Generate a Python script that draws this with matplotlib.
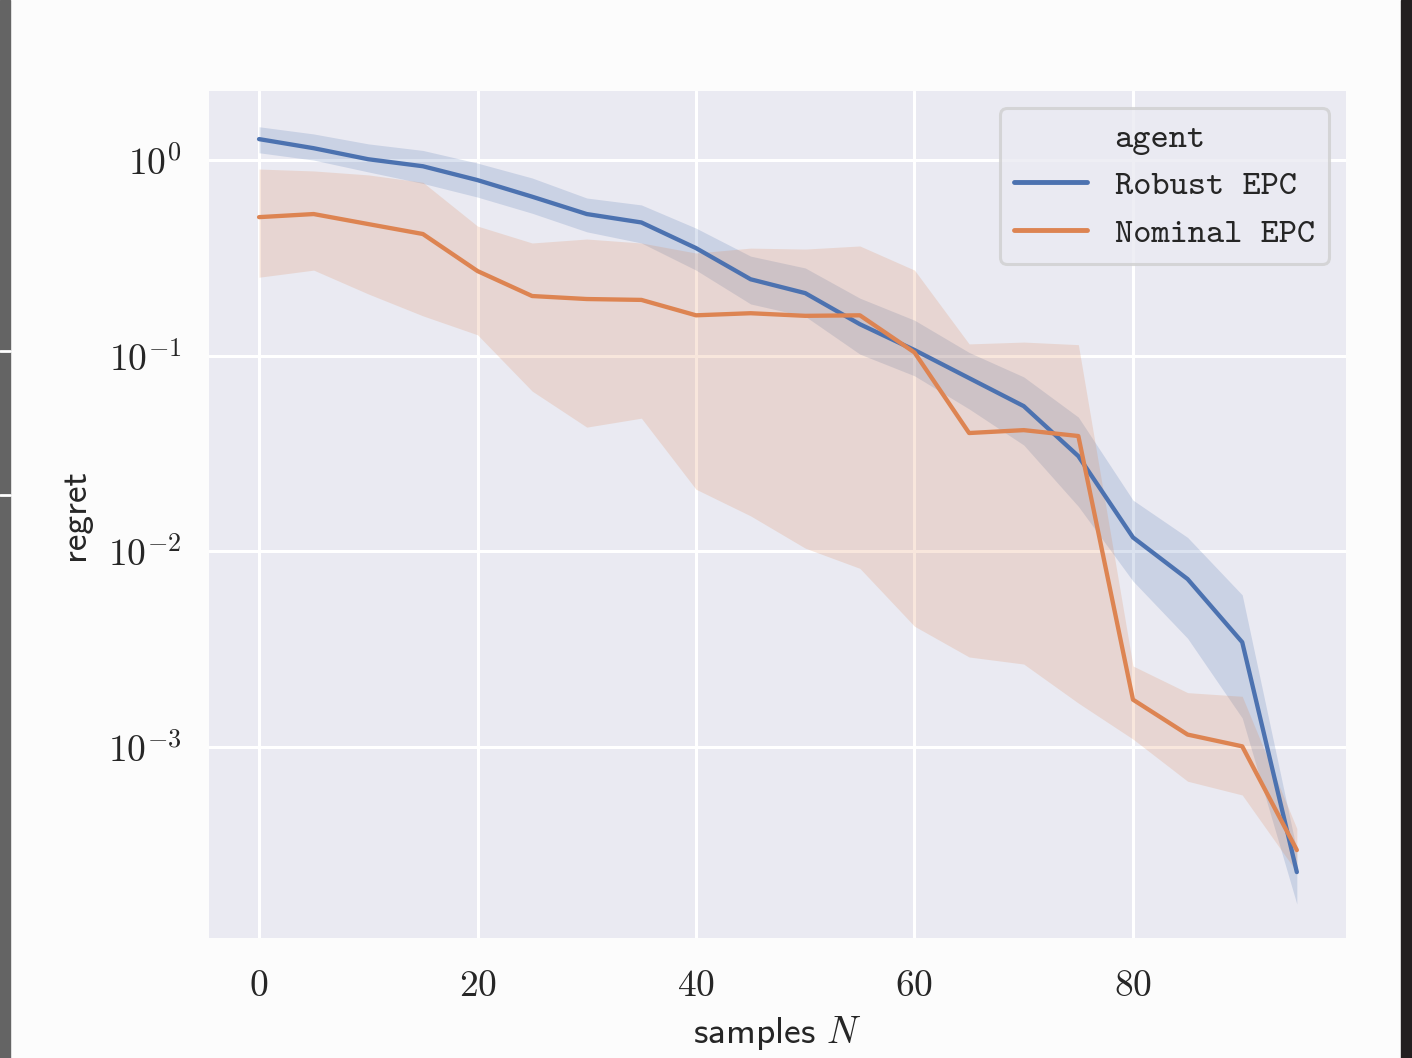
import numpy as np
import matplotlib
matplotlib.use('Agg')
import matplotlib.pyplot as plt
import seaborn as sns
from matplotlib.lines import Line2D
from matplotlib.patches import Rectangle

# samples N
samples = [0, 5, 10, 15, 20, 25, 30, 35, 40, 45, 50, 55, 60, 65, 70, 75, 80, 85, 90, 95]

# Robust EPC: mean regret and band
robust_mean = [1.28, 1.15, 1.01, 0.93, 0.79, 0.65, 0.53, 0.48, 0.355, 0.246,
               0.209, 0.145, 0.107, 0.0769, 0.0553, 0.0307, 0.0118, 0.00723, 0.00344, 2.3e-4]
robust_hi = [1.48, 1.36, 1.21, 1.12, 0.965, 0.81, 0.64, 0.59, 0.449, 0.323,
             0.281, 0.197, 0.152, 0.104, 0.078, 0.0486, 0.0183, 0.0118, 0.006, 2.96e-4]
robust_lo = [1.09, 1.0, 0.87, 0.76, 0.647, 0.535, 0.43, 0.377, 0.274, 0.184,
             0.159, 0.102, 0.079, 0.0535, 0.035, 0.017, 0.00706, 0.0036, 0.00141, 1.58e-4]

# Nominal EPC: mean regret and band
nominal_mean = [0.511, 0.53, 0.471, 0.419, 0.271, 0.202, 0.195, 0.193, 0.161, 0.165,
                0.160, 0.161, 0.104, 0.0403, 0.0417, 0.0389, 0.00175, 0.00116, 0.00101, 2.98e-4]
nominal_hi = [0.90, 0.88, 0.84, 0.77, 0.46, 0.377, 0.395, 0.377, 0.335, 0.355,
              0.351, 0.364, 0.274, 0.115, 0.1175, 0.114, 0.0026, 0.0019, 0.00182, 3.84e-4]
nominal_lo = [0.252, 0.274, 0.207, 0.160, 0.128, 0.066, 0.0432, 0.048, 0.0208, 0.0152,
              0.0104, 0.0082, 0.00415, 0.00289, 0.00266, 0.00168, 0.0011, 0.00067, 0.00057, 2.3e-4]

legend_title = 'agent'
agents = ['Robust EPC', 'Nominal EPC']

sns.set_theme(style='darkgrid')
plt.rcParams['font.family'] = ['cmr10']
plt.rcParams['mathtext.fontset'] = 'cm'
plt.rcParams['axes.formatter.use_mathtext'] = True
plt.rcParams['font.size'] = 27

fig = plt.figure(dpi=100, figsize=[14.12, 10.58], facecolor='#fcfcfc')
ax = fig.add_axes([209/1412, 1-938/1058, (1346-209)/1412, (938-91)/1058])
ax.set_facecolor('#eaeaf2')

colors = ['#4c72b0', '#dd8452']
lines = []
for means, hi, lo, c in [(robust_mean, robust_hi, robust_lo, colors[0]),
                         (nominal_mean, nominal_hi, nominal_lo, colors[1])]:
    ax.fill_between(samples, lo, hi, color=c, alpha=0.2, linewidth=0)
    l, = ax.plot(samples, means, color=c, linewidth=3.1)
    lines.append(l)

ax.set_yscale('log')
ax.set_ylim(10**-3.975, 10**0.353)
ax.set_xlim(-4.58, 99.5)
ax.set_xticks([0, 20, 40, 60, 80])
ax.yaxis.set_minor_locator(matplotlib.ticker.NullLocator())
ax.grid(color='white', linewidth=2.2)
ax.tick_params(axis='x', labelsize=27, pad=23, length=0)
ax.tick_params(axis='y', labelsize=27, pad=20, length=0)
for s in ax.spines.values():
    s.set_visible(False)

ax.set_xlabel('samples $N$', family='cmss10', fontsize=27, labelpad=8)
ax.set_ylabel('regret', family='cmss10', fontsize=27, labelpad=12)

# legend with title as a blank entry
blank = Line2D([], [], color='none')
leg = ax.legend([blank] + lines, [legend_title] + agents, loc='upper right',
                prop={'family': 'cmtt10', 'size': 25}, labelspacing=0.45,
                handlelength=2.1, frameon=True, fancybox=True)
leg.get_frame().set_facecolor('#eaeaf2')
leg.get_frame().set_edgecolor('#cfcfcf')
leg.get_frame().set_linewidth(2.2)
for lh in leg.get_lines()[1:]:
    lh.set_linewidth(3.5)

# screenshot borders
fig.add_artist(Rectangle((0, 0), 10/1412, 1, transform=fig.transFigure, color='#646464'))
fig.add_artist(Rectangle((1401/1412, 0), 11/1412, 1, transform=fig.transFigure, color='#231f20'))
for yp in [351, 495]:
    fig.add_artist(Line2D([0, 10/1412], [1-yp/1058, 1-yp/1058], transform=fig.transFigure,
                          color='white', linewidth=2))

plt.savefig('out.png', dpi=100, facecolor=fig.get_facecolor())
